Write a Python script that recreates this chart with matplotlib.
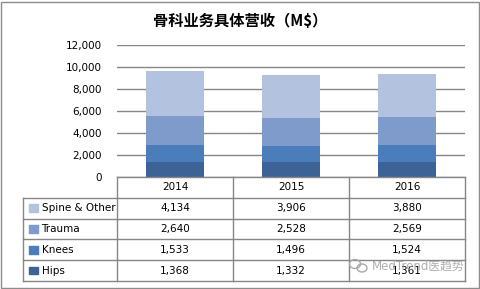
import matplotlib.pyplot as plt
from matplotlib.patches import Rectangle, Ellipse

plt.rcParams['font.family'] = ['DejaVu Sans', 'Noto Sans CJK SC']

# data
years = ['2014', '2015', '2016']
series = ['Spine & Other', 'Trauma', 'Knees', 'Hips']
hips = [1368, 1332, 1361]
knees = [1533, 1496, 1524]
trauma = [2640, 2528, 2569]
spine = [4134, 3906, 3880]
colors = {'Hips': '#3D6396', 'Knees': '#4A7DBA', 'Trauma': '#7E9BCB', 'Spine & Other': '#B3C3DF'}
yticks = [0, 2000, 4000, 6000, 8000, 10000, 12000]

values = {'Hips': hips, 'Knees': knees, 'Trauma': trauma, 'Spine & Other': spine}

W, H = 481, 289
fig = plt.figure(figsize=(W / 100, H / 100), dpi=100)
grid_c = '#868686'

# outer frame
fig.patches.append(Rectangle((1 / W, 1 / H), (W - 3) / W, (H - 3) / H, transform=fig.transFigure,
                             fill=False, edgecolor='#8c8c8c', lw=1))

fig.text(240 / W, 1 - 21 / H, '骨科业务具体营收（M$）', ha='center', va='center',
         fontsize=11, fontweight='bold', family=['Noto Sans CJK SC', 'DejaVu Sans'])

# main plot
left, right, top, bottom = 117, 465, 45, 177
ax = fig.add_axes([left / W, 1 - bottom / H, (right - left) / W, (bottom - top) / H])
x = range(len(years))
base = [0, 0, 0]
for name in ['Hips', 'Knees', 'Trauma', 'Spine & Other']:
    ax.bar(x, values[name], 0.5, bottom=base, color=colors[name], zorder=3)
    base = [b + v for b, v in zip(base, values[name])]
ax.set_xlim(-0.5, 2.5)
ax.set_ylim(0, 12000)
ax.set_yticks(yticks)
ax.set_yticklabels([f'{t:,}' for t in yticks], fontsize=7.5)
ax.tick_params(axis='y', length=0, pad=11)
ax.set_xticks([])
for s in ax.spines.values():
    s.set_visible(False)
ax.grid(axis='y', color=grid_c, lw=1, zorder=0)

# data table
tleft, tbottom = 23, 281
units = (right - left) / 3
xl = -0.5 - (left - tleft) / units
tax = fig.add_axes([tleft / W, 1 - tbottom / H, (right - tleft) / W, (tbottom - bottom) / H])
tax.set_xlim(xl, 2.5)
tax.set_ylim(5, 0)
tax.axis('off')
lk = dict(color=grid_c, lw=1, clip_on=False)
tax.plot([-0.5, 2.5], [0, 0], **lk)
for r in range(1, 6):
    tax.plot([xl, 2.5], [r, r], **lk)
for c in [-0.5, 0.5, 1.5, 2.5]:
    tax.plot([c, c], [0, 5], **lk)
tax.plot([xl, xl], [1, 5], **lk)
for i, yr in enumerate(years):
    tax.text(i, 0.5, yr, ha='center', va='center', fontsize=7.5)
for r, name in enumerate(series, start=1):
    tax.add_patch(Rectangle((xl + 0.05, r + 0.32), 0.075, 0.36, color=colors[name]))
    tax.text(xl + 0.16, r + 0.5, name, ha='left', va='center', fontsize=7.5)
    for i, v in enumerate(values[name]):
        tax.text(i, r + 0.5, f'{v:,}', ha='center', va='center', fontsize=7.5)

# watermark
fig.patches.append(Ellipse((355 / W, 1 - 264 / H), 11 / W, 9 / H, transform=fig.transFigure,
                           fill=False, edgecolor='#aaaaaa', lw=1))
fig.patches.append(Ellipse((362 / W, 1 - 268 / H), 10 / W, 8 / H, transform=fig.transFigure,
                           fill=False, edgecolor='#aaaaaa', lw=1))
fig.text(372 / W, 1 - 266 / H, 'MedTrend医趋势', ha='left', va='center', fontsize=8.5,
         color='#9a9a9a', alpha=0.8, family=['DejaVu Sans', 'Noto Sans CJK SC'])

fig.savefig('out.png', dpi=100)
